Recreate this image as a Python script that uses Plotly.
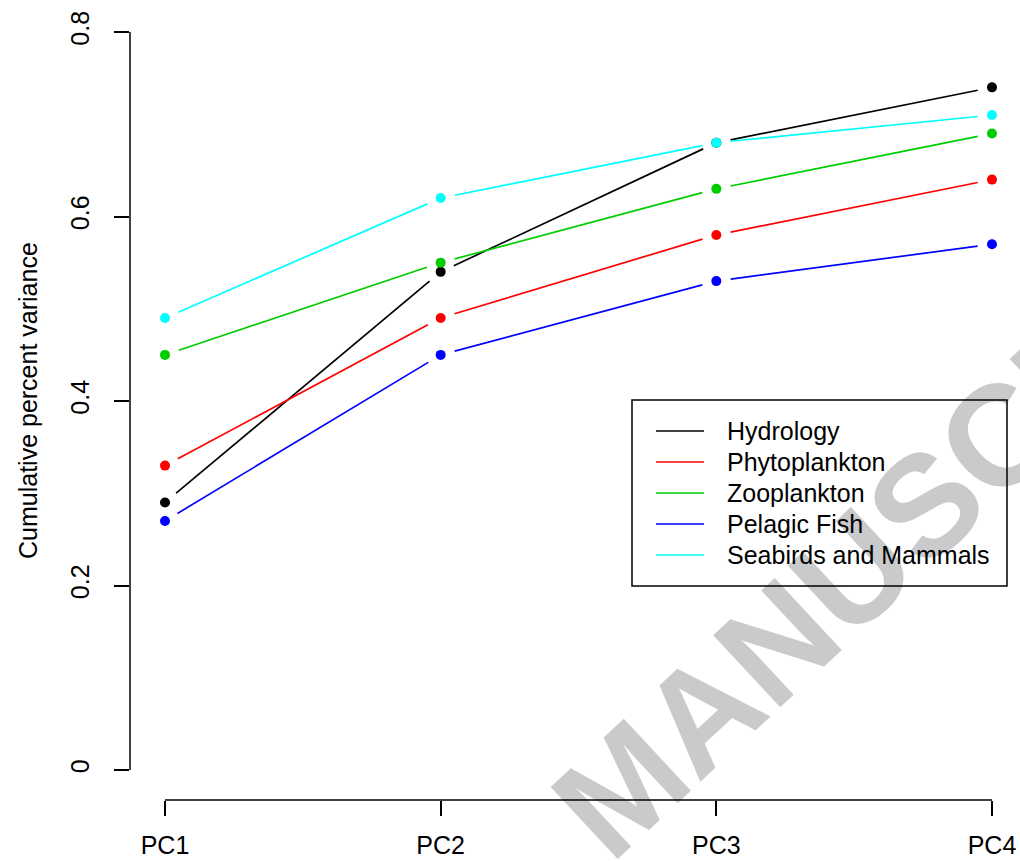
import math
import plotly.graph_objects as go

# ---------------- data ----------------
categories = ["PC1", "PC2", "PC3", "PC4"]
x_pos = [1, 2, 3, 4]
hydrology = [0.29, 0.54, 0.68, 0.74]
phytoplankton = [0.33, 0.49, 0.58, 0.64]
zooplankton = [0.45, 0.55, 0.63, 0.69]
pelagic_fish = [0.27, 0.45, 0.53, 0.57]
seabirds_mammals = [0.49, 0.62, 0.68, 0.71]
series_names = ["Hydrology", "Phytoplankton", "Zooplankton", "Pelagic Fish", "Seabirds and Mammals"]
series_values = [hydrology, phytoplankton, zooplankton, pelagic_fish, seabirds_mammals]
y_ticks = [0, 0.2, 0.4, 0.6, 0.8]
y_tick_labels = ["0", "0.2", "0.4", "0.6", "0.8"]
y_title = "Cumulative percent variance"
watermark = "MANUSCRIPT"

# ---------------- style / layout ----------------
colors = ["#000000", "#FF0000", "#00CD00", "#0000FF", "#00FFFF"]
FONT = "Liberation Sans, Arial, Helvetica, sans-serif"
W, H = 1020, 861
ML, MR, MT, MB = 130, 0, 0, 61
PW, PH = W - ML - MR, H - MT - MB
x_range = [0.873, 4.1016]
y_range = [-0.0325, 0.8347]
sx = PW / (x_range[1] - x_range[0])   # px per x unit
sy = PH / (y_range[1] - y_range[0])   # px per y unit
GAP = 14.5  # px gap around points (R type="b")


def px_to_paper_x(px):
    return (px - ML) / PW


def px_to_paper_y(py):
    return (MT + PH - py) / PH


fig = go.Figure()

for name, vals, col in zip(series_names, series_values, colors):
    seg_x, seg_y = [], []
    for i in range(len(x_pos) - 1):
        x0, x1 = x_pos[i], x_pos[i + 1]
        y0, y1 = vals[i], vals[i + 1]
        dxp, dyp = (x1 - x0) * sx, (y1 - y0) * sy
        L = math.hypot(dxp, dyp)
        if L <= 2 * GAP:
            continue
        f = GAP / L
        seg_x += [x0 + (x1 - x0) * f, x1 - (x1 - x0) * f, None]
        seg_y += [y0 + (y1 - y0) * f, y1 - (y1 - y0) * f, None]
    fig.add_trace(go.Scatter(x=seg_x, y=seg_y, mode="lines", name=name,
                             line=dict(color=col, width=1.7), showlegend=False,
                             hoverinfo="skip"))
    fig.add_trace(go.Scatter(x=x_pos, y=vals, mode="markers", name=name,
                             marker=dict(color=col, size=10, line=dict(width=0)),
                             showlegend=False))

shapes = []
# watermark (below everything)
wcx, wcy = px_to_paper_x(916), px_to_paper_y(494)
shapes.append(dict(type="rect", xref="paper", yref="paper",
                   x0=wcx - 0.005, x1=wcx + 0.005, y0=wcy - 0.005, y1=wcy + 0.005,
                   line=dict(width=0), fillcolor="rgba(0,0,0,0)", layer="below",
                   label=dict(text=watermark, textangle=-43, textposition="middle center",
                              font=dict(family=FONT, size=143, color="#c9cacc", weight="bold"))))
# detached axis lines (R style)
shapes.append(dict(type="line", xref="paper", yref="y", x0=0, x1=0, y0=y_ticks[0], y1=y_ticks[-1],
                   line=dict(color="black", width=1.5)))
shapes.append(dict(type="line", xref="x", yref="paper", x0=x_pos[0], x1=x_pos[-1], y0=0, y1=0,
                   line=dict(color="black", width=1.5)))

# manual legend (R style)
lx0, lx1 = px_to_paper_x(632), px_to_paper_x(1007)
ly_top, ly_bot = px_to_paper_y(400), px_to_paper_y(586)
shapes.append(dict(type="rect", xref="paper", yref="paper", x0=lx0, x1=lx1, y0=ly_bot, y1=ly_top,
                   line=dict(color="black", width=1.5), fillcolor="rgba(0,0,0,0)"))
annotations = []
row0, row_step = 431, 31
for i, (name, col) in enumerate(zip(series_names, colors)):
    ry = px_to_paper_y(row0 + i * row_step)
    shapes.append(dict(type="line", xref="paper", yref="paper",
                       x0=px_to_paper_x(656), x1=px_to_paper_x(704), y0=ry, y1=ry,
                       line=dict(color=col, width=1.7)))
    annotations.append(dict(text=name, xref="paper", yref="paper", x=px_to_paper_x(725), y=ry,
                            xanchor="left", yanchor="middle", showarrow=False,
                            font=dict(family=FONT, size=25, color="black")))

annotations.append(dict(text=y_title, xref="paper", yref="y", x=px_to_paper_x(28), y=0.4,
                        xanchor="center", yanchor="middle", textangle=-90, showarrow=False,
                        font=dict(family=FONT, size=25, color="black")))

fig.update_layout(
    width=W, height=H,
    margin=dict(l=ML, r=MR, t=MT, b=MB, pad=0),
    paper_bgcolor="white", plot_bgcolor="rgba(0,0,0,0)",
    showlegend=False,
    shapes=shapes, annotations=annotations,
    font=dict(family=FONT, size=25, color="black"),
    xaxis=dict(range=x_range, tickvals=x_pos, ticktext=categories, showgrid=False, zeroline=False,
               showline=False, ticks="outside", ticklen=15, tickwidth=1.5, tickcolor="black",
               ticklabelstandoff=8, automargin=False, fixedrange=True,
               tickfont=dict(family=FONT, size=25, color="black")),
    yaxis=dict(range=y_range, tickvals=y_ticks, ticktext=y_tick_labels, showgrid=False, zeroline=False,
               showline=False, ticks="outside", ticklen=15, tickwidth=1.5, tickcolor="black",
               tickangle=-90, ticklabelstandoff=15, automargin=False, fixedrange=True,
               tickfont=dict(family=FONT, size=25, color="black")),
)

fig.write_html("out.html")
